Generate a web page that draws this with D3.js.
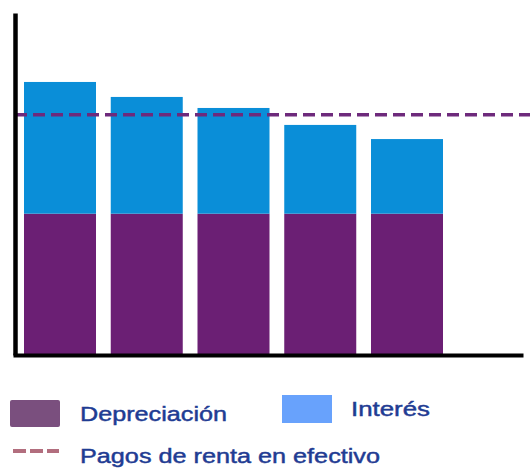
<!DOCTYPE html>
<html>
<head>
<meta charset="utf-8">
<script src="https://cdn.jsdelivr.net/npm/d3@7/dist/d3.min.js"></script>
<style>
  html, body { margin: 0; padding: 0; background: #fff; }
  svg { display: block; }
  text { font-family: "Liberation Sans", Arial, sans-serif; }
</style>
</head>
<body>
<svg id="chart" width="530" height="468"></svg>
<script>
// Lease cost composition per period
const periods = ["1", "2", "3", "4", "5"];
const depreciacion = [50, 50, 50, 50, 50];
const interes = [46.6, 41.3, 37.4, 31.4, 26.4];
const pagosRenta = 85;
const legendLabels = ["Depreciación", "Interés", "Pagos de renta en efectivo"];

const colors = {
  dep: "#6b1f74",
  int: "#0a8ed8",
  rent: "#6e2a7c",
  depKey: "#7a4f7e",
  intKey: "#68a2fc",
  rentKey: "#b26e7e",
  text: "#1f3c93"
};

const svg = d3.select("#chart");

const x = d3.scaleBand()
  .domain(periods)
  .range([24, 443])
  .paddingInner(0.17)
  .paddingOuter(0);

const y = d3.scaleLinear()
  .domain([0, 121])
  .range([355, 13]);

const rows = periods.map((p, i) => ({ p, dep: depreciacion[i], int: interes[i] }));
const stack = d3.stack().keys(["dep", "int"])(rows);

svg.append("g")
  .selectAll("g")
  .data(stack)
  .join("g")
  .attr("fill", d => colors[d.key])
  .selectAll("rect")
  .data(d => d)
  .join("rect")
  .attr("x", d => x(d.data.p))
  .attr("width", x.bandwidth())
  .attr("y", d => y(d[1]))
  .attr("height", d => y(d[0]) - y(d[1]));

// Cash rent payment reference line
svg.append("line")
  .attr("x1", 15).attr("x2", 530)
  .attr("y1", y(pagosRenta)).attr("y2", y(pagosRenta))
  .attr("stroke", colors.rent)
  .attr("stroke-width", 3.5)
  .attr("stroke-dasharray", "12,6");

// Axes drawn as plain heavy lines without ticks
const yAxis = d3.axisLeft(y).tickValues([]).tickSizeOuter(0);
svg.append("g")
  .attr("transform", "translate(15,0)")
  .call(yAxis)
  .call(g => g.select(".domain").attr("stroke", "#000").attr("stroke-width", 4.5));

const xAxisScale = d3.scaleLinear().range([13, 523]);
svg.append("g")
  .attr("transform", `translate(0,${y(0)})`)
  .call(d3.axisBottom(xAxisScale).tickValues([]).tickSizeOuter(0))
  .call(g => g.select(".domain").attr("stroke", "#000").attr("stroke-width", 4));

// Legend
const legend = svg.append("g");
const labelStyle = sel => sel
  .attr("font-size", 20)
  .attr("fill", colors.text)
  .attr("stroke", colors.text)
  .attr("stroke-width", 0.45)
  .attr("lengthAdjust", "spacingAndGlyphs");

legend.append("rect")
  .attr("x", 10).attr("y", 400).attr("width", 50).attr("height", 27)
  .attr("rx", 2).attr("fill", colors.depKey);
legend.append("text")
  .attr("x", 80).attr("y", 421)
  .call(labelStyle)
  .attr("textLength", 147)
  .text(legendLabels[0]);

legend.append("rect")
  .attr("x", 282).attr("y", 395).attr("width", 50).attr("height", 28)
  .attr("fill", colors.intKey);
legend.append("text")
  .attr("x", 351).attr("y", 416)
  .call(labelStyle)
  .attr("textLength", 79)
  .text(legendLabels[1]);

legend.append("line")
  .attr("x1", 13).attr("x2", 59)
  .attr("y1", 451).attr("y2", 451)
  .attr("stroke", colors.rentKey)
  .attr("stroke-width", 4)
  .attr("stroke-dasharray", "13,4");
legend.append("text")
  .attr("x", 80).attr("y", 463)
  .call(labelStyle)
  .attr("textLength", 300)
  .text(legendLabels[2]);
</script>
</body>
</html>
